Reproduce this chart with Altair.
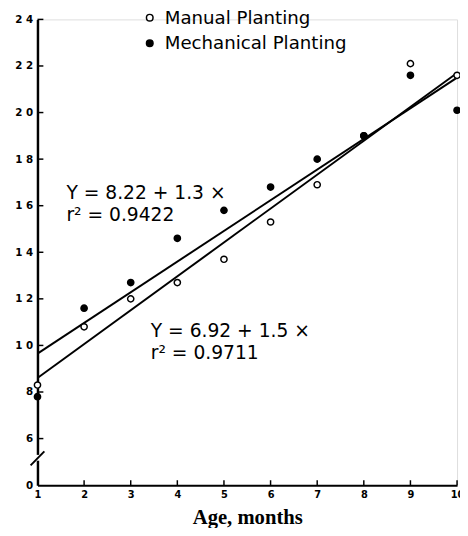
import altair as alt
import pandas as pd

# ---- data ----
months = [1, 2, 3, 4, 5, 6, 7, 8, 9, 10]
manual = [8.3, 10.8, 12.0, 12.7, 13.7, 15.3, 16.9, 19.0, 22.1, 21.6]
mechanical = [7.8, 11.6, 12.7, 14.6, 15.8, 16.8, 18.0, 19.0, 21.6, 20.1]

fit_x = [1, 10]
manual_fit = [8.6, 21.7]
mechanical_fit = [9.65, 21.5]

series_names = ["Manual Planting", "Mechanical Planting"]
y_ticks = [4, 6, 8, 10, 12, 14, 16, 18, 20, 22, 24]   # 4 is shown as the broken "0"
x_ticks = [1, 2, 3, 4, 5, 6, 7, 8, 9, 10]

eq_text = ["Y = 8.22 + 1.3 ×", "r² = 0.9422", "Y = 6.92 + 1.5 ×", "r² = 0.9711"]
eq_x = [1.62, 1.62, 3.43, 3.43]
eq_y = [16.55, 15.6, 10.6, 9.65]

# ---- tables ----
pts = pd.DataFrame({
    "month": months * 2,
    "height": manual + mechanical,
    "series": [series_names[0]] * len(months) + [series_names[1]] * len(months),
})
fits = pd.DataFrame({
    "month": fit_x * 2,
    "height": manual_fit + mechanical_fit,
    "series": [series_names[0]] * 2 + [series_names[1]] * 2,
})
ytk = pd.DataFrame({"v": y_ticks[1:]})
xtk = pd.DataFrame({"v": x_ticks[1:]})
eqs = pd.DataFrame({"t": eq_text, "x": eq_x, "y": eq_y})

W, H = 427, 474
xs = alt.Scale(domain=[1, 10], nice=False, zero=False)
ys = alt.Scale(domain=[4, 24], nice=False, zero=False)

label_expr = ("datum.value == 4 ? '0' : (length(datum.label) > 1 ? "
              "slice(datum.label,0,1) + ' ' + slice(datum.label,1) : datum.label)")

X = alt.X("month:Q", scale=xs, axis=alt.Axis(
    values=x_ticks, title="Age, months", titleFont="Liberation Serif",
    titleFontWeight="bold", titleFontSize=21, titlePadding=7,
    labelFont="DejaVu Sans", labelFontWeight="bold", labelFontSize=10,
    labelPadding=5, ticks=False, grid=False, domainColor="black",
    domainWidth=2, labelColor="black", titleColor="black", labelFlush=False))
Y = alt.Y("height:Q", scale=ys, axis=alt.Axis(
    values=y_ticks, title=None, labelExpr=label_expr,
    labelFont="DejaVu Sans", labelFontWeight="bold", labelFontSize=10.5,
    labelPadding=5, ticks=False, grid=False, domainColor="black",
    domainWidth=2.5, labelColor="black"))

lines = alt.Chart(fits).mark_line(color="black", strokeWidth=2).encode(
    x=X, y=Y, detail="series:N")

points = alt.Chart(pts).mark_point(
    shape="circle", filled=True, stroke="black", strokeWidth=1.5, size=40, opacity=1
).encode(
    x=alt.X("month:Q", scale=xs),
    y=alt.Y("height:Q", scale=ys),
    fill=alt.Fill("series:N", scale=alt.Scale(domain=series_names, range=["white", "black"]),
                  legend=alt.Legend(title=None, orient="none", legendX=105, legendY=-11,
                                    labelFont="DejaVu Sans", labelFontSize=18.5,
                                    labelColor="black", labelLimit=0, symbolType="circle",
                                    symbolSize=45, symbolStrokeColor="black",
                                    symbolStrokeWidth=1.5, rowPadding=7,
                                    labelOffset=6)),
)

yticks = alt.Chart(ytk).mark_rule(color="black", strokeWidth=1.5).encode(
    x=alt.value(0), x2=alt.value(6), y=alt.Y("v:Q", scale=ys))
xticks = alt.Chart(xtk).mark_rule(color="black", strokeWidth=1.5).encode(
    y=alt.value(H), y2=alt.value(H - 5), x=alt.X("v:Q", scale=xs))

gap = alt.Chart(pd.DataFrame({"a": [0]})).mark_rule(color="white", strokeWidth=5).encode(
    x=alt.value(0), y=alt.datum(5.05, scale=ys), y2=alt.datum(5.3))
slash = alt.Chart(pd.DataFrame({"a": [0]})).mark_rule(color="black", strokeWidth=2).encode(
    x=alt.value(-7), x2=alt.value(7), y=alt.datum(4.85, scale=ys), y2=alt.datum(5.45))

texts = alt.Chart(eqs).mark_text(
    align="left", baseline="middle", font="DejaVu Sans", fontSize=19, color="black"
).encode(x=alt.X("x:Q", scale=xs), y=alt.Y("y:Q", scale=ys), text="t:N")

chart = alt.layer(lines, yticks, xticks, gap, slash, points, texts).properties(
    width=W, height=H,
    autosize=alt.AutoSizeParams(type="none"),
    padding={"left": 30, "top": 7, "right": 3, "bottom": 39},
).configure_view(stroke=None).configure(background="white")

chart.save("out.html", embed_options={"renderer": "svg", "actions": False})
